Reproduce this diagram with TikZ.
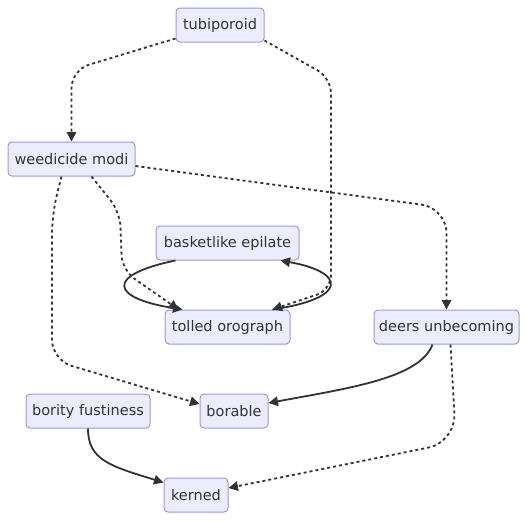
\documentclass[tikz,border=0pt]{standalone}
\usepackage{fontspec}
\setmainfont{DejaVu Sans}
\usetikzlibrary{arrows.meta}
\definecolor{boxfill}{HTML}{ECECFF}
\definecolor{boxline}{HTML}{A493DE}
\definecolor{ink}{HTML}{333333}

\begin{document}
\begin{tikzpicture}[x=1pt, y=-1pt, >={Triangle[length=9.5pt,width=9.5pt]}, font=\fontsize{14.5}{16}\selectfont,
    box/.style={draw=boxline, fill=boxfill, text=ink, rounded corners=4pt, minimum height=34pt, inner sep=0pt, line width=1pt},
    flow/.style={->, draw=ink, fill=none, line width=1.8pt},
    flowdot/.style={flow, dash pattern=on 3pt off 3pt}]
                \useasboundingbox (0,0) rectangle (527,520);

                \node[box, minimum width=88pt] (tub) at (220,25) {tubiporoid};
                \node[box, minimum width=127pt] (weed) at (71.5,159) {weedicide modi};
                \node[box, minimum width=143pt] (basket) at (227.5,243) {basketlike epilate};
                \node[box, minimum width=125pt] (tolled) at (227.5,327) {tolled orograph};
                \node[box, minimum width=145pt] (deers) at (446.5,327) {deers unbecoming};
                \node[box, minimum width=124pt] (bority) at (88,411) {bority fustiness};
                \node[box, minimum width=68pt] (borable) at (234,411) {borable};
                \node[box, minimum width=64pt] (kerned) at (196,495) {kerned};

                \draw[flowdot, rounded corners=18pt] ([yshift=4pt]tub.south west) -- (71.5,70) -- (weed.north);
                \draw[flowdot, rounded corners=15pt] ([yshift=2pt]tub.south east) -- (331,78) -- (331,290) -- ([xshift=-18pt]tolled.north east);

                \draw[flowdot, rounded corners=25pt] ([yshift=-7pt]weed.east) -- (446.5,208) -- (deers.north);
                \draw[flowdot, rounded corners=15pt] ([xshift=20pt]weed.south) -- (120,212) -- (122,270) -- ([xshift=14pt]tolled.north west);
                \draw[flowdot, rounded corners=20pt] ([xshift=-10pt]weed.south) -- (52,214) -- (52,360) -- ([yshift=7pt]borable.west);

                \draw[flow] ([xshift=20pt]basket.south west) .. controls (105,275) and (110,298) .. ([xshift=18pt]tolled.north west);
                \draw[flow] ([xshift=-18pt]tolled.north east) .. controls (350,298) and (345,272) .. ([xshift=-19pt]basket.south east);

                \draw[flow] ([xshift=-14pt]deers.south) .. controls (420,378) and (350,388) .. ([yshift=8pt]borable.east);
                \draw[flowdot, rounded corners=28pt] ([xshift=4pt]deers.south) -- (456,442) -- ([yshift=7pt]kerned.east);

                \draw[flow] (bority.south) .. controls (88,460) and (110,466) .. ([yshift=-5pt]kerned.north west);
\end{tikzpicture}
\end{document}
